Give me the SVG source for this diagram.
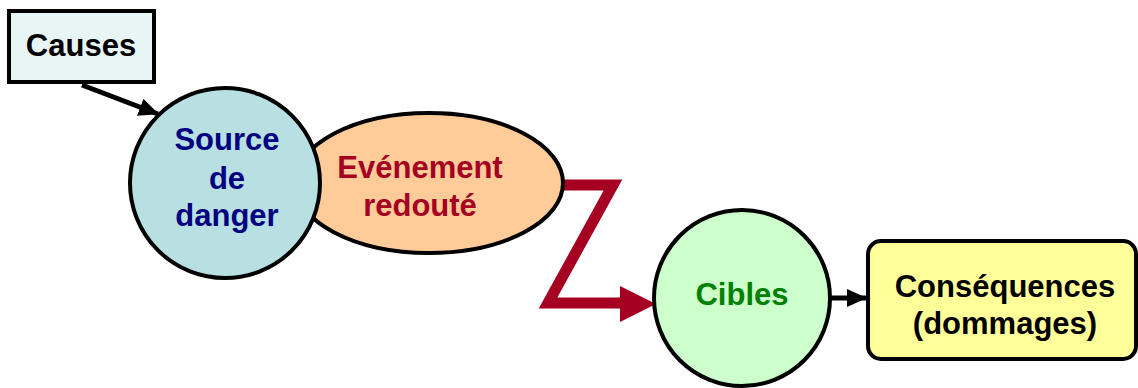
<svg xmlns="http://www.w3.org/2000/svg" width="1138" height="388" viewBox="0 0 1138 388">
  <defs>
    <style>
      .lbl { font-family: "Liberation Sans", Arial, sans-serif; font-weight: bold; text-anchor: middle; font-size: 31px; }
      .shape { stroke: #000; stroke-width: 4; }
    </style>
    <marker id="blackHead" markerWidth="20" markerHeight="18" refX="19" refY="9" orient="auto" markerUnits="userSpaceOnUse">
      <path d="M0,0 L20,9 L0,18 Z" fill="#000"/>
    </marker>
  </defs>

  <!-- connectors -->
  <g id="connectors">
    <line x1="82" y1="85" x2="158" y2="114" stroke="#000" stroke-width="5" marker-end="url(#blackHead)"/>
    <polyline points="542,185 613,185 548,303 622,303" fill="none" stroke="#a50021" stroke-width="11" stroke-linejoin="miter"/>
    <polygon points="620,286 656,304 620,322" fill="#a50021"/>
    <line x1="831" y1="298" x2="866" y2="298" stroke="#000" stroke-width="5" marker-end="url(#blackHead)"/>
  </g>

  <g id="causes">
    <rect class="shape" x="9" y="11" width="145" height="71" fill="#e8f5f5"/>
    <text class="lbl" x="81" y="56" fill="#000">Causes</text>
  </g>

  <g id="evenement">
    <ellipse class="shape" cx="429" cy="183" rx="134" ry="70" fill="#ffcc99"/>
    <text class="lbl" x="420" y="178" fill="#a50021">Evénement</text>
    <text class="lbl" x="420" y="216" fill="#a50021">redouté</text>
  </g>

  <g id="source">
    <circle class="shape" cx="225" cy="183" r="95" fill="#b8e0e2"/>
    <text class="lbl" x="227" y="150" fill="#000080">Source</text>
    <text class="lbl" x="227" y="189" fill="#000080">de</text>
    <text class="lbl" x="227" y="226" fill="#000080">danger</text>
  </g>

  <g id="cibles">
    <circle class="shape" cx="742" cy="298" r="88" fill="#ccffcc"/>
    <text class="lbl" x="742" y="305" fill="#008000">Cibles</text>
  </g>

  <g id="consequences">
    <rect class="shape" x="868" y="241" width="268" height="118" rx="13" fill="#ffff99"/>
    <text class="lbl" x="1005" y="297" fill="#000">Conséquences</text>
    <text class="lbl" x="1005" y="334" fill="#000">(dommages)</text>
  </g>
</svg>
